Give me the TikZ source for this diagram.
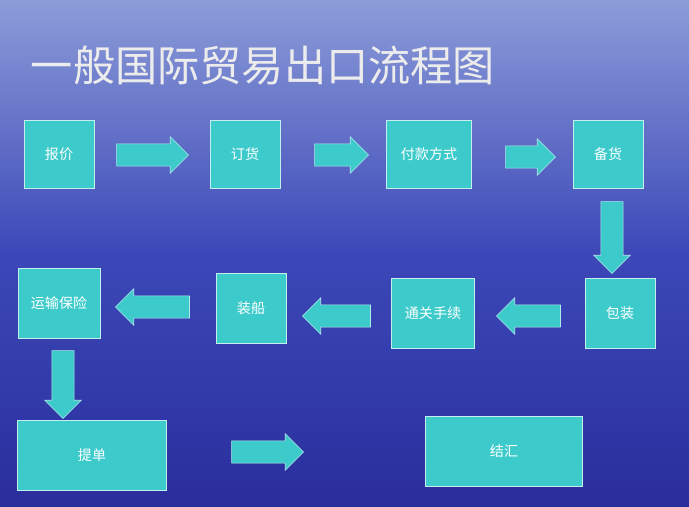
\documentclass[tikz,border=0pt]{standalone}
\usepackage{fontspec}
\newfontfamily\cjk{Noto Sans CJK SC}
\usetikzlibrary{shapes.arrows}
\definecolor{boxcyan}{HTML}{3CCACB}
\definecolor{seatop}{HTML}{8C9CD8}
\definecolor{seamid}{HTML}{3C48B8}
\definecolor{seabot}{HTML}{2A2E9C}
\tikzset{
  stepbox/.style={fill=boxcyan, draw=white!70!boxcyan, inner sep=0pt, text=white, font=\cjk\fontsize{10}{12}\selectfont},
  flow/.style={single arrow, fill=boxcyan, draw=white!60!boxcyan, minimum height=#1, inner xsep=0pt, inner ysep=0.27cm, single arrow head extend=0.18cm}
}
\begin{document}
\begin{tikzpicture}[x=0.025cm,y=-0.025cm]
\useasboundingbox (0,0) rectangle (689,506);
\shade[top color=seatop, bottom color=seabot, middle color=seamid] (0,0) rectangle (689,506);
\node[anchor=west, text=white!85!gray, font=\cjk\fontsize{30}{33}\selectfont] (title) at (26,66) {一般国际贸易出口流程图};

% boxes
\node[stepbox, minimum width=1.75cm, minimum height=1.7cm] (baojia) at (59,154) {报价};
\node[stepbox, minimum width=1.75cm, minimum height=1.7cm] (dinghuo) at (245,154) {订货};
\node[stepbox, minimum width=2.12cm, minimum height=1.7cm] (fukuan) at (429,154) {付款方式};
\node[stepbox, minimum width=1.75cm, minimum height=1.7cm] (beihuo) at (608,154) {备货};
\node[stepbox, minimum width=1.75cm, minimum height=1.75cm] (baozhuang) at (620,313) {包装};
\node[stepbox, minimum width=2.08cm, minimum height=1.75cm] (tongguan) at (433,313) {通关手续};
\node[stepbox, minimum width=1.75cm, minimum height=1.75cm] (zhuangchuan) at (251,308) {装船};
\node[stepbox, minimum width=2.05cm, minimum height=1.75cm] (yunshu) at (59,303) {运输保险};
\node[stepbox, minimum width=3.72cm, minimum height=1.75cm] (tidan) at (92,455) {提单};
\node[stepbox, minimum width=3.92cm, minimum height=1.75cm] (jiehui) at (504,451) {结汇};

% arrows
\node[flow=1.8cm] (a1) at (147,155) {};
\node[flow=1.35cm] (a2) at (336,155) {};
\node[flow=1.25cm] (a3) at (525,157) {};
\node[flow=1.8cm, rotate=-90] (a4) at (612,232) {};
\node[flow=1.6cm, rotate=180] (a5) at (534,316) {};
\node[flow=1.7cm, rotate=180] (a6) at (342,316) {};
\node[flow=1.85cm, rotate=180] (a7) at (158,307) {};
\node[flow=1.7cm, rotate=-90] (a8) at (63,379) {};
\node[flow=1.8cm] (a9) at (262,452) {};
\end{tikzpicture}
\end{document}
